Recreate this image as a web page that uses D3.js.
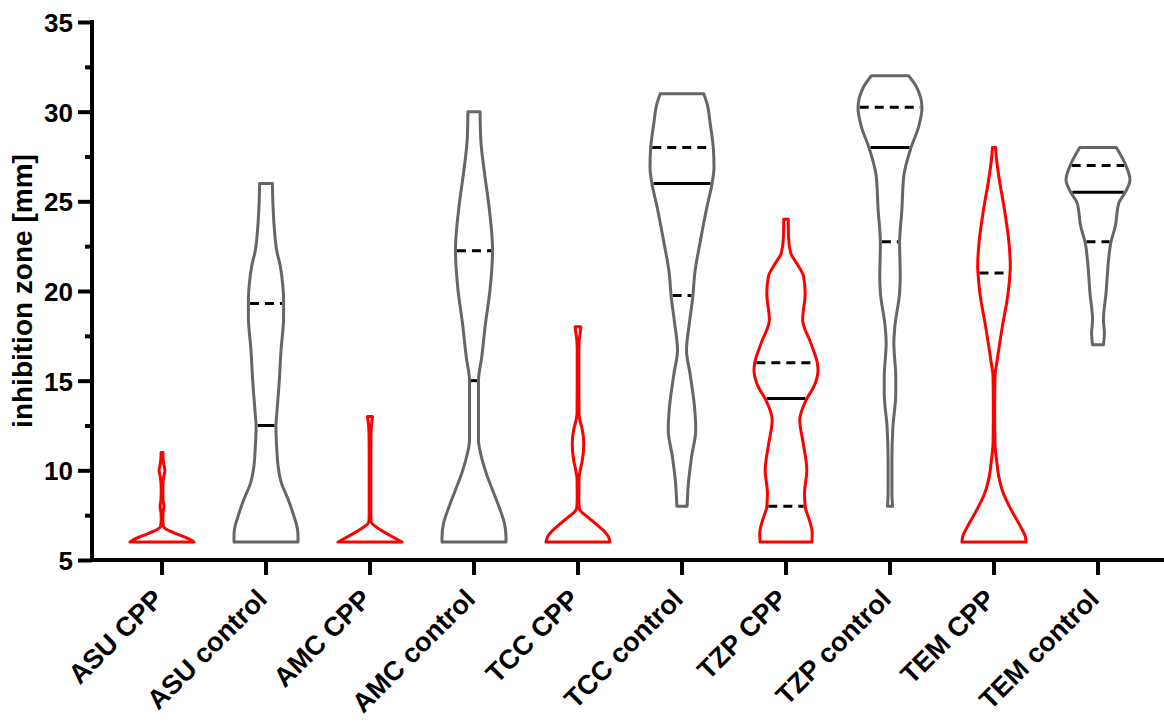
<!DOCTYPE html>
<html><head><meta charset="utf-8">
<script src="https://cdn.jsdelivr.net/npm/d3@7"></script>
<style>
body{margin:0;background:#fff}
svg{display:block}
text{font-family:"Liberation Sans",Arial,Helvetica,sans-serif;font-weight:bold;fill:#000}
</style>
</head><body>
<svg id="chart" width="1164" height="723"></svg>
<script>
// ---------- DATA ----------
const categories = ["ASU CPP","ASU control","AMC CPP","AMC control","TCC CPP","TCC control","TZP CPP","TZP control","TEM CPP","TEM control"];
const groups = ["CPP","control","CPP","control","CPP","control","CPP","control","CPP","control"];

// violin profiles: [inhibition zone (mm), relative density 0..1]
const profileASUCPP = [[6.0,1.0],[6.1,0.92],[6.3,0.68],[6.5,0.4],[6.7,0.15],[6.85,0.05],[7.2,0.025],[7.6,0.03],[8.0,0.06],[8.4,0.03],[9.0,0.025],[9.6,0.05],[10.0,0.09],[10.4,0.05],[10.8,0.03],[11.0,0.03]];
const profileASUcontrol = [[6.0,1.0],[6.4,1.0],[6.85,0.97],[7.4,0.88],[8.35,0.7],[9.3,0.48],[10.2,0.38],[11.1,0.34],[12.5,0.31],[13.0,0.33],[14.85,0.41],[16.7,0.47],[18.57,0.55],[19.5,0.55],[20.4,0.52],[21.35,0.45],[22.3,0.33],[23.5,0.26],[24.7,0.22],[26.0,0.2]];
const profileAMCCPP = [[6.0,1.0],[6.2,0.8],[6.5,0.5],[6.77,0.25],[7.0,0.08],[7.2,0.03],[8.0,0.025],[10.0,0.025],[12.0,0.03],[12.6,0.05],[13.0,0.08]];
const profileAMCcontrol = [[6.0,1.0],[6.3,1.0],[7.05,0.95],[7.97,0.78],[8.9,0.58],[9.8,0.39],[10.76,0.23],[11.7,0.14],[13.6,0.14],[15.0,0.14],[16.3,0.24],[18.2,0.36],[20.06,0.5],[22.3,0.58],[24.7,0.47],[26.55,0.33],[28.5,0.21],[30.0,0.19]];
const profileTCCCPP = [[6.0,1.0],[6.3,0.95],[6.6,0.82],[7.0,0.57],[7.4,0.3],[7.7,0.1],[7.9,0.04],[8.5,0.025],[9.5,0.03],[10.0,0.07],[10.5,0.13],[11.5,0.18],[12.3,0.13],[12.8,0.06],[13.2,0.03],[15.0,0.025],[16.8,0.025],[17.3,0.04],[17.7,0.07],[18.0,0.09]];
const profileTCCcontrol = [[8.0,0.16],[9.28,0.2],[10.76,0.3],[12.25,0.43],[13.55,0.39],[15.4,0.25],[16.7,0.14],[18.2,0.23],[19.72,0.34],[21.0,0.4],[22.85,0.58],[24.7,0.78],[26.0,0.94],[26.9,1.0],[27.96,0.98],[29.35,0.88],[30.4,0.79],[31.0,0.68]];
const profileTZPCPP = [[6.0,0.81],[6.49,0.82],[7.23,0.73],[7.97,0.6],[8.72,0.58],[10.0,0.65],[11.5,0.54],[12.8,0.43],[13.96,0.64],[14.67,0.87],[15.6,1.0],[15.97,0.98],[17.08,0.78],[18.4,0.52],[19.87,0.6],[20.8,0.55],[21.5,0.35],[22.1,0.15],[23.0,0.08],[24.0,0.07]];
const profileTZPcontrol = [[8.0,0.08],[8.72,0.06],[10.58,0.06],[12.4,0.09],[14.3,0.18],[15.2,0.18],[17.1,0.12],[18.0,0.15],[19.9,0.3],[20.8,0.32],[22.7,0.3],[24.5,0.37],[26.4,0.43],[27.96,0.65],[29.2,0.9],[30.2,1.0],[31.4,0.82],[32.0,0.58]];
const profileTEMCPP = [[6.0,1.0],[6.3,0.98],[6.86,0.83],[7.79,0.54],[8.72,0.29],[9.65,0.15],[10.58,0.08],[11.5,0.03],[13.37,0.02],[15.2,0.03],[16.15,0.1],[18.0,0.26],[19.87,0.44],[21.0,0.5],[21.36,0.51],[22.66,0.47],[24.5,0.33],[26.4,0.15],[27.5,0.07],[28.0,0.05]];
const profileTEMcontrol = [[17.0,0.17],[17.65,0.2],[18.4,0.17],[19.87,0.25],[21.73,0.33],[22.7,0.4],[23.6,0.54],[24.9,0.65],[25.5,0.85],[26.2,1.0],[27.0,0.87],[28.0,0.57]];

const profiles = [profileASUCPP,profileASUcontrol,profileAMCCPP,profileAMCcontrol,profileTCCCPP,profileTCCcontrol,profileTZPCPP,profileTZPcontrol,profileTEMCPP,profileTEMcontrol];

const medians   = [6, 12.5, 6, 15.0, 6, 26.0, 14.0, 28.0, 6, 25.5];
const quartile1 = [6, 6, 6, 6, 6, 19.75, 8.0, 22.75, 6, 22.75];
const quartile3 = [6, 19.3, 6, 22.25, 6, 28.0, 16.0, 30.25, 21.0, 27.0];

const yTicks = [5,10,15,20,25,30,35];
const yMinorTicks = [7.5,12.5,17.5,22.5,27.5,32.5];
const yLabel = "inhibition zone [mm]";

// ---------- LAYOUT ----------
const svg = d3.select("#chart");
const plotLeft = 92, plotRight = 1164, plotTop = 22, plotBottom = 560;
const y = d3.scaleLinear().domain([5,35]).range([plotBottom, plotTop]);
const x = d3.scaleBand().domain(categories).range([110, 1150]);
const w = d3.scaleLinear().domain([0,1]).range([0, 32]);
const colorOf = g => g === "CPP" ? "#ff0000" : "#666666";
const strokeW = 3;

function densityAt(profile, v){
  if (v <= profile[0][0]) return profile[0][1];
  for (let i=1;i<profile.length;i++){
    const [v1,d1] = profile[i];
    const [v0,d0] = profile[i-1];
    if (v <= v1) return d0 + (d1-d0)*(v-v0)/(v1-v0);
  }
  return profile[profile.length-1][1];
}

// ---------- QUARTILE / MEDIAN LINES ----------
const lines = [];
categories.forEach((c,i)=>{
  const p = profiles[i], vmin = p[0][0];
  [[quartile1[i],true],[medians[i],false],[quartile3[i],true]].forEach(([v,dashed])=>{
    if (v > vmin + 0.01) lines.push({c, v, dashed, hw: Math.max(0, w(densityAt(p,v)) - strokeW/2)});
  });
});
svg.append("g").selectAll("line").data(lines).join("line")
  .attr("x1", d => x(d.c) + x.bandwidth()/2 - d.hw)
  .attr("x2", d => x(d.c) + x.bandwidth()/2 + d.hw)
  .attr("y1", d => y(d.v)).attr("y2", d => y(d.v))
  .attr("stroke", "#000").attr("stroke-width", 3)
  .attr("stroke-dasharray", d => d.dashed ? "9,6" : null);

// ---------- VIOLINS ----------
const area = d3.area()
  .curve(d3.curveMonotoneY)
  .y(d => y(d[0]));
svg.append("g").selectAll("path").data(categories).join("path")
  .attr("d", (c,i) => {
    const cx = x(c) + x.bandwidth()/2;
    return area.x0(d => cx - w(d[1])).x1(d => cx + w(d[1]))(profiles[i]);
  })
  .attr("fill", "none")
  .attr("stroke", (c,i) => colorOf(groups[i]))
  .attr("stroke-width", strokeW)
  .attr("stroke-linejoin", "round");

// ---------- AXES ----------
const yAxis = svg.append("g").attr("transform", `translate(${plotLeft},0)`)
  .call(d3.axisLeft(y).tickValues(yTicks).tickSize(14).tickSizeOuter(0).tickPadding(5).tickFormat(d3.format("d")));
yAxis.select(".domain").remove();
yAxis.selectAll(".tick line").attr("stroke","#000").attr("stroke-width",4);
yAxis.selectAll(".tick text").style("font-size","26px").attr("dy","0.36em");

const yMinor = svg.append("g").attr("transform", `translate(${plotLeft},0)`)
  .call(d3.axisLeft(y).tickValues(yMinorTicks).tickSize(7).tickFormat(""));
yMinor.select(".domain").remove();
yMinor.selectAll(".tick line").attr("stroke","#000").attr("stroke-width",4);

const xAxis = svg.append("g").attr("transform", `translate(0,${plotBottom})`)
  .call(d3.axisBottom(x).tickSize(15).tickSizeOuter(0));
xAxis.select(".domain").remove();
xAxis.selectAll(".tick line").attr("stroke","#000").attr("stroke-width",4);
xAxis.selectAll(".tick text")
  .style("font-size","27px")
  .attr("x",0).attr("y",0).attr("dy","0.35em")
  .attr("text-anchor","end")
  .attr("transform","translate(-4,34) rotate(-45)");

// axis lines
svg.append("line").attr("x1",plotLeft).attr("x2",plotLeft)
  .attr("y1",y(35)-2).attr("y2",y(5)+2).attr("stroke","#000").attr("stroke-width",4);
svg.append("line").attr("x1",plotLeft-2).attr("x2",plotRight)
  .attr("y1",y(5)).attr("y2",y(5)).attr("stroke","#000").attr("stroke-width",4);

// y label
svg.append("text")
  .attr("transform", `translate(32,${(plotTop+plotBottom)/2}) rotate(-90)`)
  .attr("text-anchor","middle")
  .style("font-size","28px")
  .text(yLabel);
</script>
</body></html>
